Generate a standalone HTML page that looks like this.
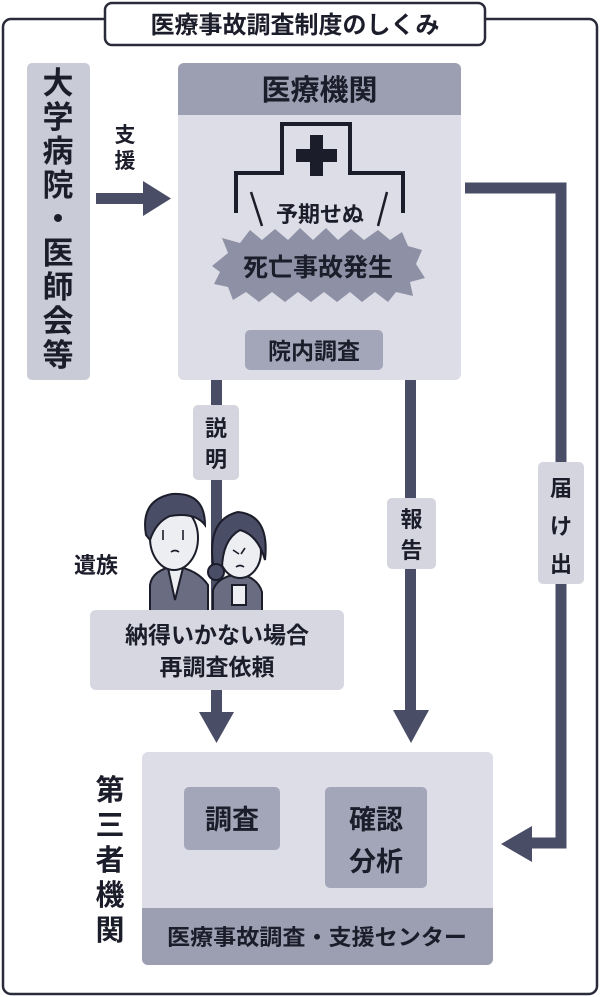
<!DOCTYPE html>
<html><head><meta charset="utf-8"><style>
html,body{margin:0;padding:0;background:#fff;}
svg{display:block;}
text{font-family:"Liberation Sans","Noto Sans CJK JP",sans-serif;font-weight:bold;fill:#1c1d2a;}
</style></head><body>
<svg width="600" height="997" viewBox="0 0 600 997" xmlns="http://www.w3.org/2000/svg">
<rect x="3" y="19" width="594" height="975" rx="8" fill="#fff" stroke="#2a2b3a" stroke-width="2.5"/>
<rect x="105" y="3" width="380" height="42" rx="7" fill="#fff" stroke="#2a2b3a" stroke-width="2.5"/>
<text x="295" y="33" font-size="24" text-anchor="middle">医療事故調査制度のしくみ</text>

<!-- left box -->
<rect x="27" y="63" width="63" height="317" rx="5" fill="#c9cbd6"/>
<g font-size="31" text-anchor="middle">
<text x="58" y="94">大</text><text x="58" y="128">学</text><text x="58" y="162">病</text><text x="58" y="196">院</text><text x="58" y="230">・</text><text x="58" y="264">医</text><text x="58" y="298">師</text><text x="58" y="332">会</text><text x="58" y="366">等</text>
</g>

<!-- support arrow -->
<text x="125" y="142" font-size="21" text-anchor="middle">支</text>
<text x="125" y="168" font-size="21" text-anchor="middle">援</text>
<rect x="96" y="193" width="52" height="11" fill="#4a4d66"/>
<polygon points="143,181 171,198.5 143,216" fill="#4a4d66"/>

<!-- medical institution -->
<rect x="178" y="63" width="283" height="317" rx="6" fill="#dcdde6"/>
<path d="M184,63 H455 A6,6 0 0 1 461,69 V115 H178 V69 A6,6 0 0 1 184,63 Z" fill="#9c9fb2"/>
<text x="319.5" y="100" font-size="29" text-anchor="middle">医療機関</text>
<path d="M236,213 V173 H282 V124 H350 V173 H403 V213" fill="none" stroke="#1c1d2a" stroke-width="4"/>
<rect x="310" y="135" width="13" height="41" fill="#1c1d2a"/>
<rect x="296" y="149" width="41" height="13" fill="#1c1d2a"/>
<line x1="251" y1="192" x2="262" y2="226" stroke="#1c1d2a" stroke-width="2.5"/>
<line x1="387" y1="192" x2="378" y2="226" stroke="#1c1d2a" stroke-width="2.5"/>
<text x="320" y="222" font-size="22" text-anchor="middle">予期せぬ</text>
<polygon points="212,266 228,253 222,238 240,243 250,230 262,240 275,229 288,240 300,228 313,240 326,228 338,240 351,229 364,240 378,230 390,240 402,232 408,246 422,250 416,264 425,278 410,282 413,296 396,292 388,302 375,292 362,302 350,292 337,302 324,292 311,302 298,292 285,302 272,292 259,302 246,292 233,300 228,287 214,284 220,272" fill="#8e91a6"/>
<text x="318" y="276" font-size="25" text-anchor="middle">死亡事故発生</text>
<rect x="245" y="330" width="138" height="40" rx="5" fill="#a3a6b8"/>
<text x="314" y="359" font-size="23" text-anchor="middle">院内調査</text>

<!-- right connector -->
<polyline points="465,188 561,188 561,843 528,843" fill="none" stroke="#4a4d66" stroke-width="11"/>
<polygon points="532,826 501,844 532,862" fill="#4a4d66"/>
<rect x="538" y="462" width="46" height="122" rx="5" fill="#d4d5df"/>
<text x="561" y="496" font-size="22" text-anchor="middle">届</text>
<text x="561" y="534" font-size="22" text-anchor="middle">け</text>
<text x="561" y="572" font-size="22" text-anchor="middle">出</text>

<!-- report -->
<rect x="405" y="380" width="11" height="335" fill="#4a4d66"/>
<polygon points="393,710 429,710 411,743" fill="#4a4d66"/>
<rect x="387" y="498" width="49" height="71" rx="5" fill="#d4d5df"/>
<text x="411.5" y="527" font-size="22" text-anchor="middle">報</text>
<text x="411.5" y="558" font-size="22" text-anchor="middle">告</text>

<!-- explain -->
<rect x="211" y="380" width="11" height="335" fill="#4a4d66"/>
<rect x="193" y="405" width="46" height="75" rx="5" fill="#d4d5df"/>
<text x="216" y="436" font-size="22" text-anchor="middle">説</text>
<text x="216" y="467" font-size="22" text-anchor="middle">明</text>
<polygon points="199,712 234,712 216.5,743" fill="#4a4d66"/>

<!-- people -->
<text x="96" y="573" font-size="22" text-anchor="middle">遺族</text>
<g stroke="#1c1d2a" stroke-width="2">
<path d="M150,615 V585 Q152,570 175,566 Q198,570 208,585 V615 Z" fill="#6a6d82"/>
<path d="M168,568 L175,600 L183,568 Z" fill="#eceef2"/>
<ellipse cx="174" cy="538" rx="24" ry="32" fill="#eceef2"/>
<path d="M146,535 Q140,500 172,494 Q205,492 205,525 Q195,512 170,516 Q156,522 150,540 Z" fill="#4a4d66"/>
<path d="M213,615 V590 Q218,576 240,574 Q258,578 262,592 V615 Z" fill="#6a6d82"/>
<rect x="232" y="585" width="14" height="20" fill="#eceef2"/>
<ellipse cx="240" cy="552" rx="21" ry="26" fill="#eceef2"/>
<path d="M214,570 Q205,520 238,512 Q270,515 265,560 Q258,535 240,530 Q222,540 222,570 Z" fill="#4a4d66"/>
<circle cx="216" cy="572" r="8" fill="#4a4d66"/>
</g>
<g stroke="#1c1d2a" stroke-width="1.6" fill="none">
<path d="M163,530 v10 M183,530 v10 M171,552 q4,-3 8,0"/>
<path d="M233,550 l6,4 M245,548 l-4,6 M236,567 q4,-3 8,0"/>
</g>

<!-- not satisfied box -->
<rect x="90" y="610" width="254" height="80" rx="6" fill="#d6d7e1"/>
<text x="217" y="643" font-size="23" text-anchor="middle">納得いかない場合</text>
<text x="217" y="675" font-size="23" text-anchor="middle">再調査依頼</text>
<rect x="211" y="690" width="11" height="25" fill="#4a4d66"/>

<!-- third party -->
<g font-size="29" text-anchor="middle">
<text x="110" y="800">第</text><text x="110" y="835">三</text><text x="110" y="870">者</text><text x="110" y="905">機</text><text x="110" y="940">関</text>
</g>
<rect x="142" y="752" width="351" height="213" rx="6" fill="#dcdde6"/>
<path d="M142,908 H493 V959 A6,6 0 0 1 487,965 H148 A6,6 0 0 1 142,959 Z" fill="#9c9fb2"/>
<text x="317" y="945" font-size="22" text-anchor="middle" textLength="300" lengthAdjust="spacingAndGlyphs">医療事故調査・支援センター</text>
<rect x="184" y="787" width="96" height="63" rx="5" fill="#a3a6b8"/>
<text x="232" y="829" font-size="27" text-anchor="middle">調査</text>
<rect x="325" y="787" width="102" height="101" rx="5" fill="#a3a6b8"/>
<text x="376" y="829" font-size="27" text-anchor="middle">確認</text>
<text x="376" y="871" font-size="27" text-anchor="middle">分析</text>
</svg>
</body></html>
